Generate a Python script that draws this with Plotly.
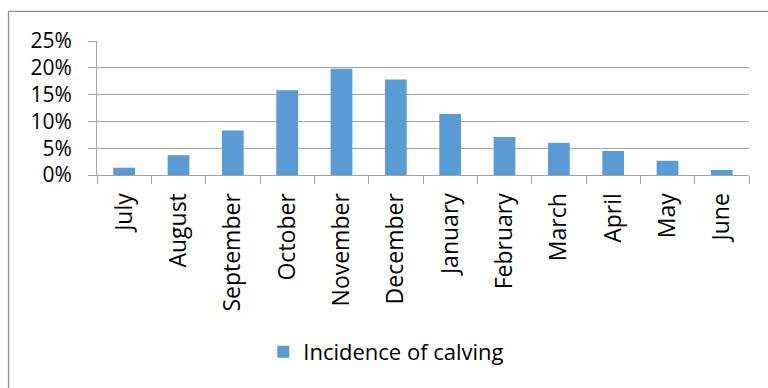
import plotly.graph_objects as go

# Monthly share of calvings over the season
months = ["July", "August", "September", "October", "November", "December",
          "January", "February", "March", "April", "May", "June"]
calving_pct = [1.36, 3.7, 8.3, 15.8, 19.8, 17.8, 11.4, 7.1, 6.0, 4.5, 2.65, 0.93]
y_ticks = [0, 5, 10, 15, 20, 25]
y_tick_text = ["0%", "5%", "10%", "15%", "20%", "25%"]

FONT = "Open Sans"
GRID = "#a3a3a3"

fig = go.Figure(go.Bar(
    x=months,
    y=calving_pct,
    name="Incidence of calving",
    marker=dict(color="#5b9bd5", line=dict(width=0)),
))

fig.update_layout(
    width=768, height=388,
    margin=dict(l=97, r=19, t=41, b=213),
    paper_bgcolor="white", plot_bgcolor="white",
    bargap=0.6,
    font=dict(family=FONT, size=22, color="black"),
    showlegend=True,
    legend=dict(
        orientation="h", x=0.255, xanchor="left", y=-1.32, yanchor="middle",
        font=dict(family=FONT, size=22, color="black"),
        bgcolor="rgba(0,0,0,0)",
    ),
    shapes=[dict(
        type="path", xref="paper", yref="paper",
        path="M 1.2,1.2207 L -0.1357,1.2207 L -0.1357,-1.9",
        line=dict(color="#8c8c8c", width=1.3),
    )],
)

fig.update_xaxes(
    type="category", tickson="boundaries",
    tickangle=-90, ticks="outside", ticklen=8, tickcolor=GRID,
    ticklabelstandoff=8,
    showline=True, linecolor=GRID, linewidth=1,
    showgrid=False,
    tickfont=dict(family=FONT, size=23),
)
fig.update_yaxes(
    range=[0, 25], tickvals=y_ticks, ticktext=y_tick_text,
    ticks="outside", ticklen=8, tickcolor=GRID,
    ticklabelstandoff=12,
    showline=True, linecolor=GRID, linewidth=1,
    showgrid=True, gridcolor=GRID, gridwidth=1,
    zeroline=False,
    tickfont=dict(family=FONT, size=21),
)

fig.write_html("out.html")
